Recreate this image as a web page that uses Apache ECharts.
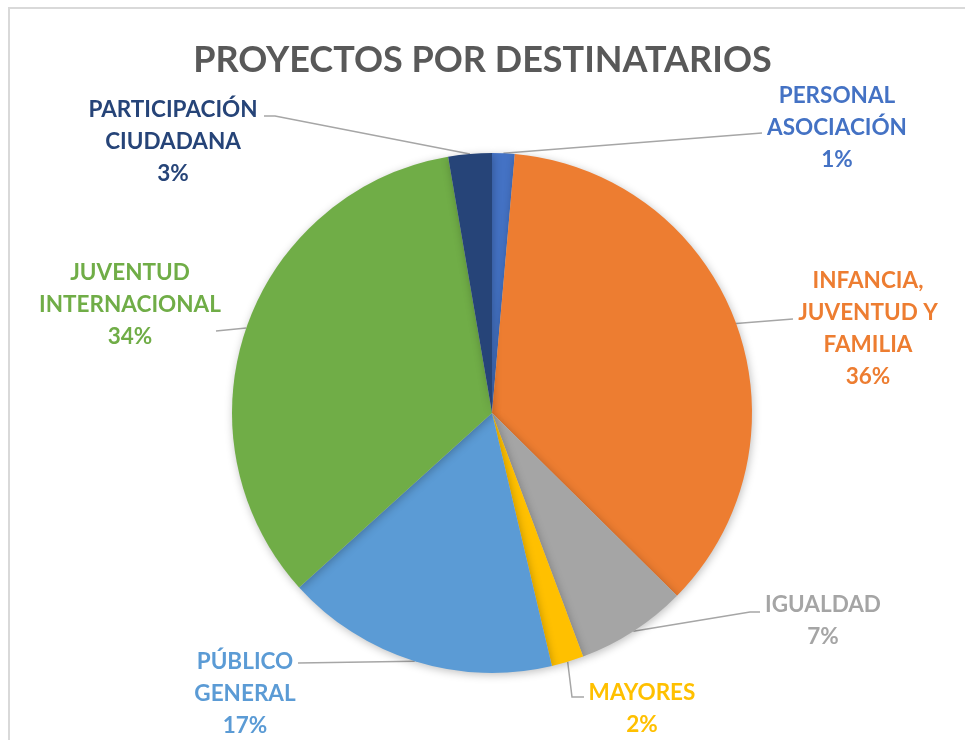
<!DOCTYPE html>
<html>
<head>
<meta charset="utf-8">
<script src="https://cdn.jsdelivr.net/npm/echarts@6/dist/echarts.min.js"></script>
<style>
html,body{margin:0;padding:0;background:#fff;}
#c{width:965px;height:740px;}
</style>
</head>
<body>
<div id="c"></div>
<script>
var categories = ['PERSONAL\nASOCIACIÓN', 'INFANCIA,\nJUVENTUD Y\nFAMILIA', 'IGUALDAD', 'MAYORES', 'PÚBLICO\nGENERAL', 'JUVENTUD\nINTERNACIONAL', 'PARTICIPACIÓN\nCIUDADANA'];
var values = [1.4, 36.0, 6.9, 2.0, 17.0, 34.0, 2.7];
var colors = ['#4472C4', '#ED7D31', '#A5A5A5', '#FFC000', '#5B9BD5', '#70AD47', '#264478'];
// label block centres
var labelPos = [[837,128],[868,329],[823,621],[642,709],[245,694],[130,305],[173,142]];
// leader-line waypoints after the slice edge point
var leaderEnds = [
  [[762,133]],
  [[793,319]],
  [[750,612],[760,612]],
  [[572,697],[584,697]],
  [[298,663]],
  [[216,331]],
  [[275,116],[264,116]]
];

var chart = echarts.init(document.getElementById('c'));
var data = categories.map(function(c,i){
  return {name:c, value:values[i], itemStyle:{color:colors[i]}, label:{color:colors[i]}};
});
chart.setOption({
  animation:false,
  title:{text:'PROYECTOS POR DESTINATARIOS', left:'center', top:37,
    textStyle:{fontFamily:'Lato', fontWeight:'bold', fontSize:36, color:'#595959'}},
  graphic:[{type:'rect', shape:{x:9,y:8,width:1000,height:1000}, style:{fill:'none', stroke:'#D9D9D9', lineWidth:2}, silent:true}],
  series:[{
    type:'pie',
    center:[492,413],
    radius:[0,260],
    startAngle:90,
    clockwise:true,
    data:data,
    itemStyle:{shadowBlur:8, shadowColor:'rgba(0,0,0,0.25)', shadowOffsetX:1, shadowOffsetY:2},
    emphasis:{disabled:true},
    label:{show:true, position:'outside', fontFamily:'Lato', fontWeight:'bold', fontSize:22.5, lineHeight:32, align:'center',
      formatter:function(p){return p.name + '\n' + Math.round(p.percent) + '%';}},
    labelLine:{show:true, lineStyle:{color:'#A6A6A6', width:1.5}, length:20, length2:20},
    labelLayout:function(p){
      var pos = labelPos[p.dataIndex];
      var pts = [p.labelLinePoints[0]].concat(leaderEnds[p.dataIndex]);
      return {x:pos[0], y:pos[1], align:'center', verticalAlign:'middle', labelLinePoints:pts};
    }
  }]
});
</script>
</body>
</html>
